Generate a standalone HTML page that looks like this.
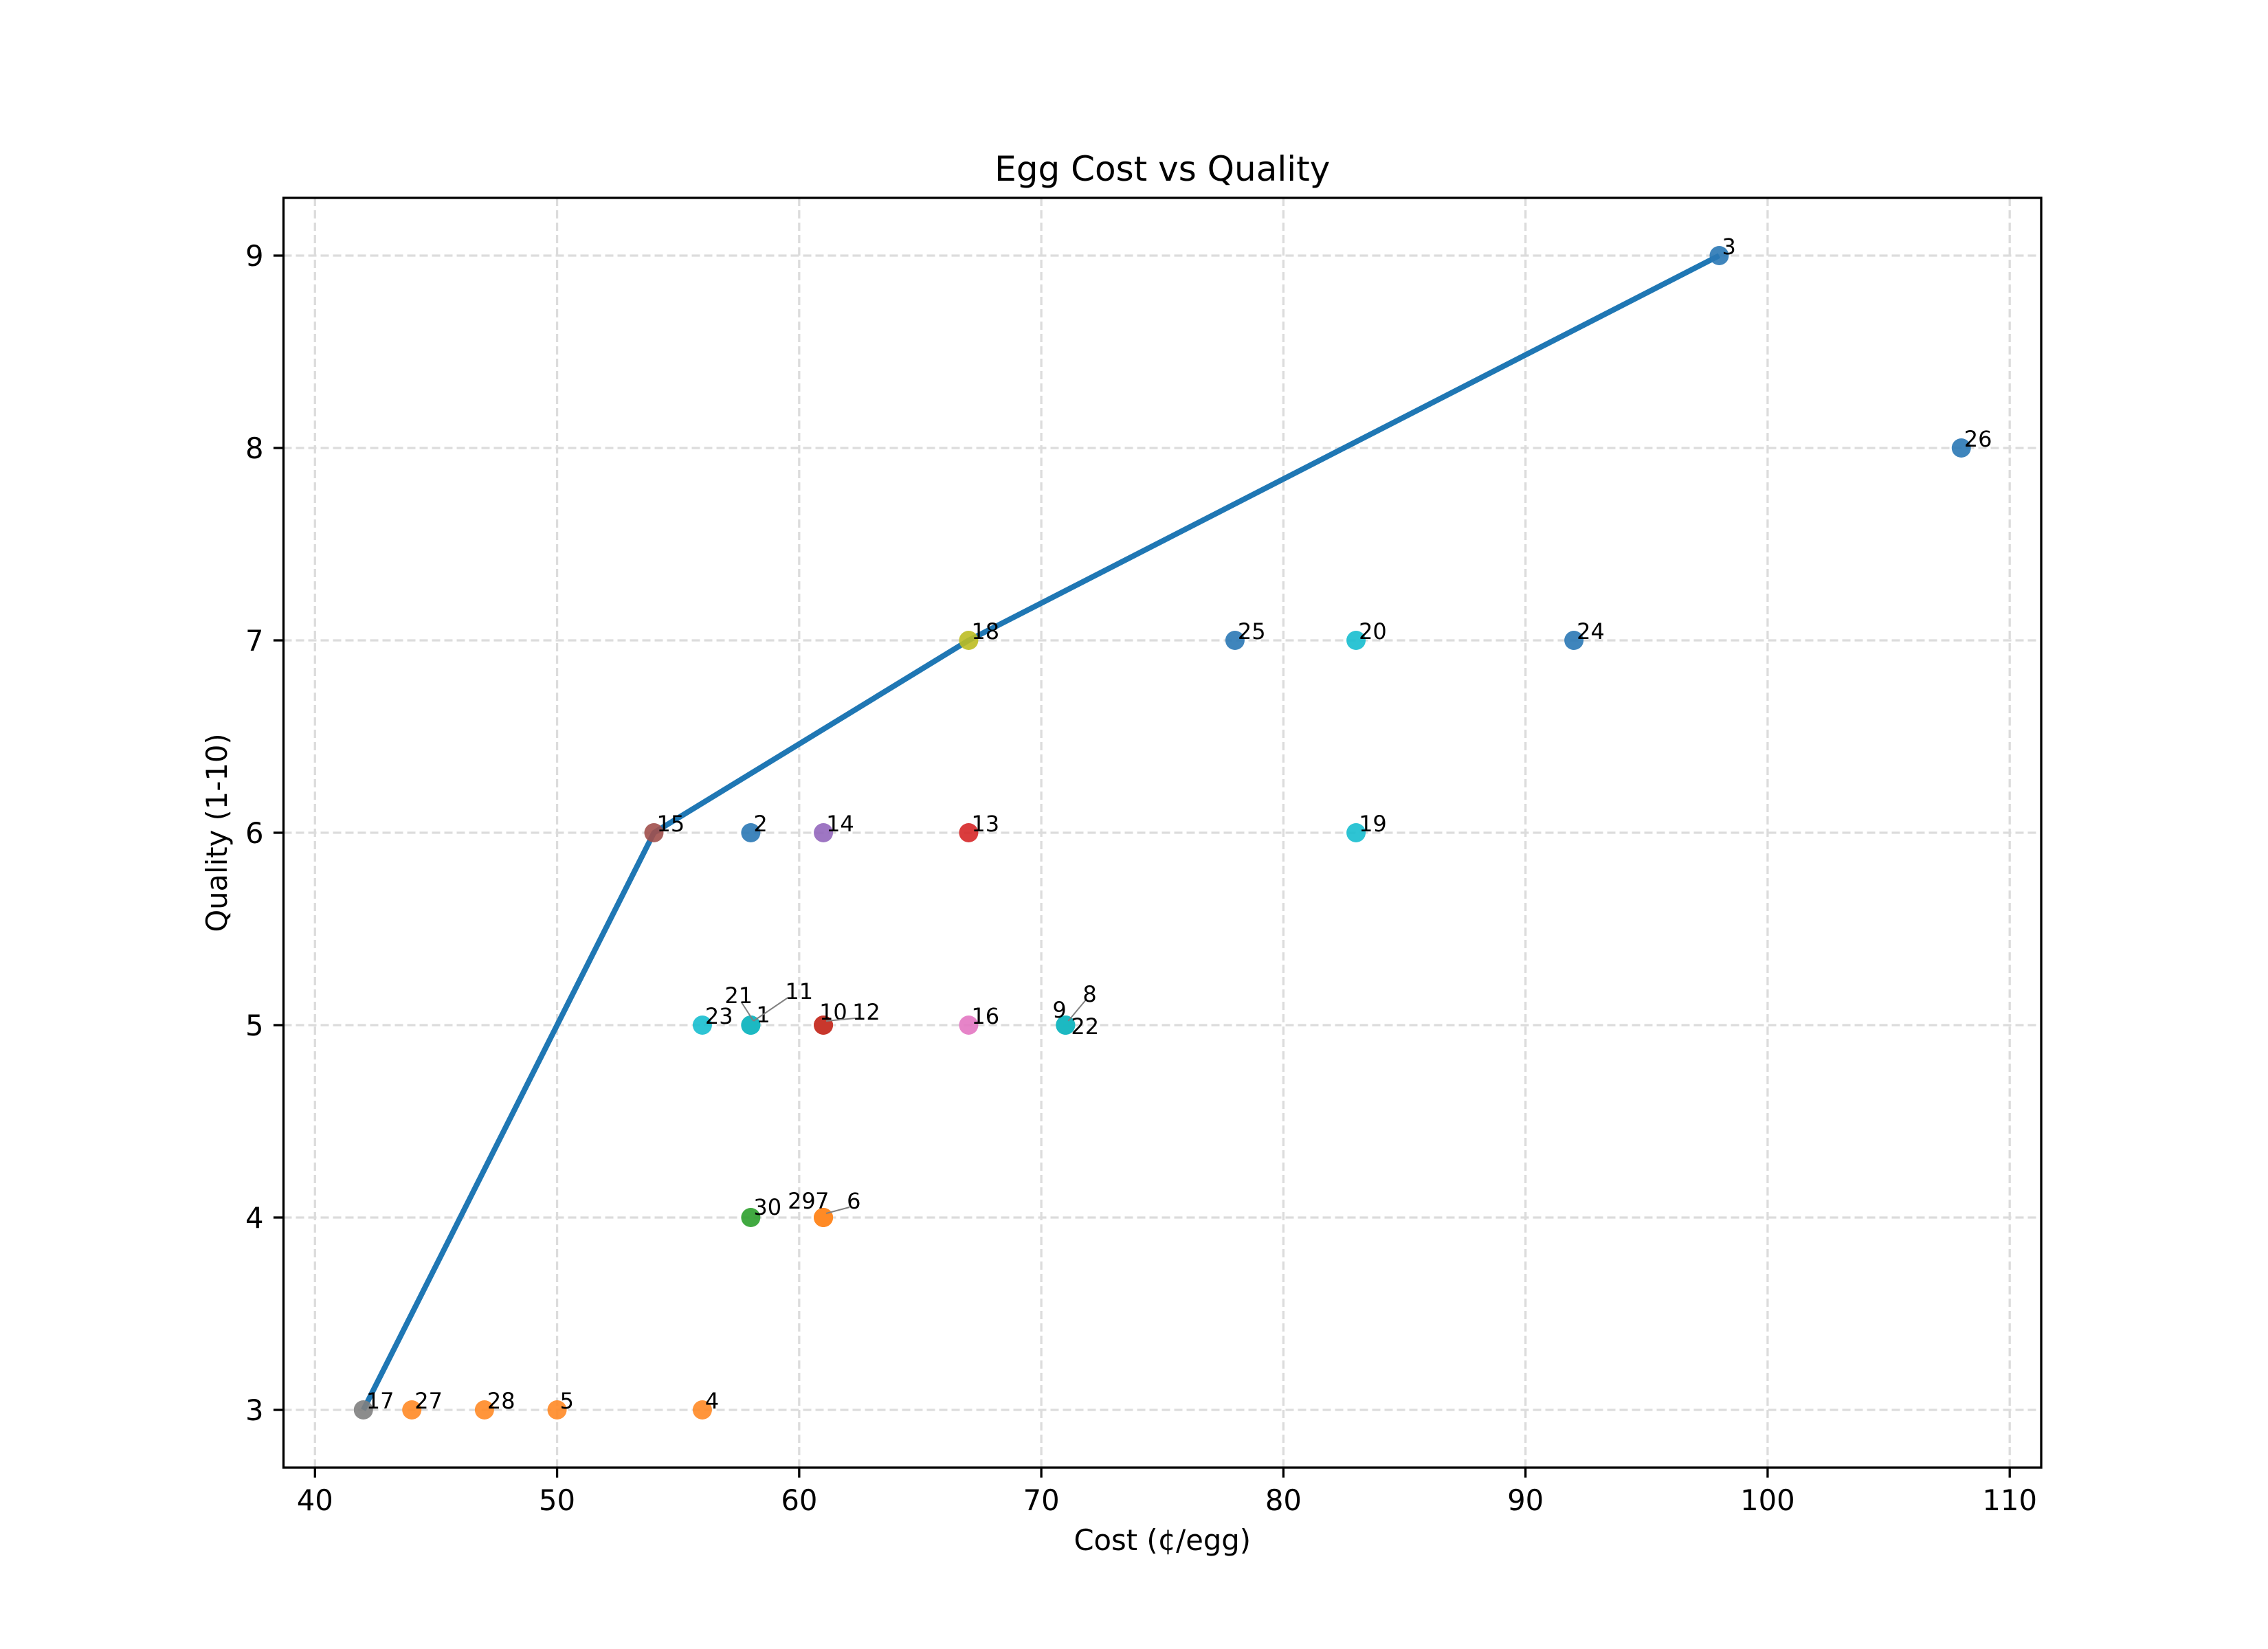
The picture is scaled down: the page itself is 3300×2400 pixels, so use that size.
<!DOCTYPE html>
<html><head><meta charset="utf-8"><style>
html,body{margin:0;padding:0;background:#fff}
svg{display:block}
text{font-family:"DejaVu Sans","Liberation Sans",sans-serif;fill:#000}
</style></head><body>
<svg id="chart" width="3300" height="2400" viewBox="0 0 3300 2400" xmlns="http://www.w3.org/2000/svg">
<rect width="3300" height="2400" fill="#fff"/>
</svg>
<script>
const labels = ["1","2","3","4","5","6","7","8","9","10","11","12","13","14","15","16","17","18","19","20","21","22","23","24","25","26","27","28","29","30"];
const costs = [58,58,98,56,50,61,61,71,71,61,58,61,67,61,54,67,42,67,83,83,58,71,56,92,78,108,44,47,61,58];
const quality = [5,6,9,3,3,4,4,5,5,5,5,5,6,6,6,5,3,7,6,7,5,5,5,7,7,8,3,3,4,4];
const colors = ["#1cb9c2","#2a78b5","#2a78b5","#ff8a26","#ff8a26","#ff8a26","#ff8a26","#1cb9c2","#1cb9c2","#c8352a","#1cb9c2","#c8352a","#d62728","#9467bd","#a1504c","#e377c2","#7f7f7f","#bcbd22","#17becf","#17becf","#1cb9c2","#1cb9c2","#17becf","#2a78b5","#2a78b5","#2a78b5","#ff8a26","#ff8a26","#ff8a26","#2ca02c"];
const frontierCost = [42,54,67,98];
const frontierQuality = [3,6,7,9];
const xTicks = [40,50,60,70,80,90,100,110];
const yTicks = [3,4,5,6,7,8,9];
const labelOffsets = {"1":[8,-4,0],"21":[-38,-32,1],"11":[50,-38,1],"10":[-6,-8,0],"12":[42,-8,1],"9":[-19,-11,0],"8":[25,-34,1],"22":[8,13,0],"30":[4,-4,0],"29":[-52,-13,0],"7":[-12,-13,0],"6":[34,-13,1]};

const NS="http://www.w3.org/2000/svg";
const svg=document.getElementById('chart');
const L=412.5,R=2970,T=288,B=2136;
const xMin=38.7,xMax=111.3,yMin=2.7,yMax=9.3;
const X=v=>L+(v-xMin)/(xMax-xMin)*(R-L);
const Y=v=>B-(v-yMin)/(yMax-yMin)*(B-T);
function mk(tag,attrs,parent){const e=document.createElementNS(NS,tag);for(const k in attrs)e.setAttribute(k,attrs[k]);(parent||svg).appendChild(e);return e;}

const grid=mk('g',{});


xTicks.forEach(t=>{const l=mk('line',{x1:X(t),x2:X(t),y1:T,y2:B,stroke:'#dcdcdc','stroke-width':3.3,'stroke-dasharray':'12,6'},grid);

});
yTicks.forEach(t=>{const l=mk('line',{x1:L,x2:R,y1:Y(t),y2:Y(t),stroke:'#dcdcdc','stroke-width':3.3,'stroke-dasharray':'12,6'},grid);

});

const pts=frontierCost.map((c,i)=>X(c)+','+Y(frontierQuality[i])).join(' ');
const fl=mk('polyline',{points:pts,fill:'none',stroke:'#1f77b4','stroke-width':8,'stroke-linejoin':'round'});



const ptsG=mk('g',{});


costs.forEach((c,i)=>{const p=mk('circle',{cx:X(c),cy:Y(quality[i]),r:14,fill:colors[i],'fill-opacity':0.9},ptsG);

});

const labG=mk('g',{});


costs.forEach((c,i)=>{const px=X(c),py=Y(quality[i]);const o=labelOffsets[labels[i]]||[4,-2,0];
if(o[2]){const ln=mk('line',{x1:px+4,y1:py-6,x2:px+o[0]+(o[0]<0?24:4),y2:py+o[1]-2,stroke:'#808080','stroke-width':2},labG);

}
const t=mk('text',{x:px+o[0],y:py+o[1],'font-size':32},labG);t.textContent=labels[i];

});

const sp=mk('rect',{x:L,y:T,width:R-L,height:B-T,fill:'none',stroke:'#000','stroke-width':3.3});



xTicks.forEach(t=>{mk('line',{x1:X(t),x2:X(t),y1:B,y2:B+14.6,stroke:'#000','stroke-width':3.3});
const tx=mk('text',{x:X(t),y:B+62,'font-size':41.7,'text-anchor':'middle'});tx.textContent=t;

});
yTicks.forEach(t=>{mk('line',{x1:L-14.6,x2:L,y1:Y(t),y2:Y(t),stroke:'#000','stroke-width':3.3});
const tx=mk('text',{x:L-29,y:Y(t)+15,'font-size':41.7,'text-anchor':'end'});tx.textContent=t;

});

const ti=mk('text',{x:(L+R)/2,y:263,'font-size':50,'text-anchor':'middle'});ti.textContent='Egg Cost vs Quality';


const xl=mk('text',{x:(L+R)/2,y:2256,'font-size':41.7,'text-anchor':'middle'});xl.textContent='Cost (¢/egg)';


const yl=mk('text',{x:0,y:0,'font-size':41.7,'text-anchor':'middle',transform:'translate(330,'+((T+B)/2)+') rotate(-90)'});yl.textContent='Quality (1-10)';


</script>
</body></html>
